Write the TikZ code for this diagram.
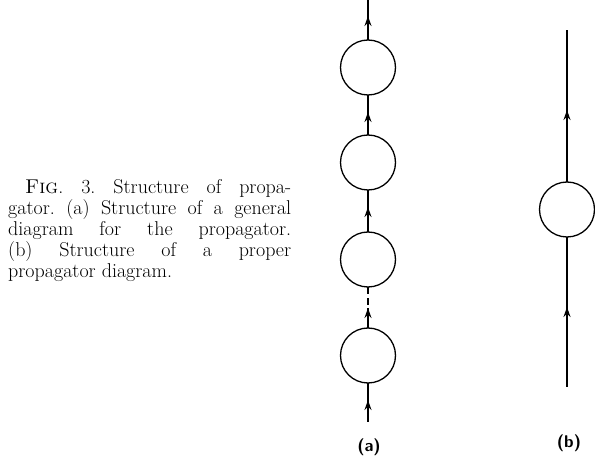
\documentclass[tikz,border=0pt]{standalone}
\usepackage{fontspec}
\usepackage{tikz}
\usetikzlibrary{arrows.meta,positioning,decorations.markings}

\begin{document}
\begin{tikzpicture}[
    x=1pt, y=-1pt,
    node distance=40pt,
    blob/.style={circle, draw, line width=1.3pt, minimum size=55pt, inner sep=0pt, outer sep=0pt},
    prop/.style={line width=1.3pt, postaction={decorate},
        decoration={markings, mark=at position #1 with {\arrow{Stealth[length=10pt, width=7pt, inset=3.5pt]}}}},
    lbl/.style={font=\sffamily\bfseries\fontsize{17}{17}\selectfont},
    caption/.style={text width=283pt, align=justify, inner sep=0pt, anchor=north west,
        font=\fontsize{20}{21}\selectfont\frenchspacing}
]
\useasboundingbox (0,0) rectangle (595,462);

% caption
\node[caption] (cap) at (8,179) {\hspace*{17pt}\textsc{Fig}. 3. Structure of propa-\linebreak
gator. (a)~Structure of a general\linebreak
diagram for the propagator.\linebreak
(b) Structure of a proper\linebreak
propagator diagram.};

% (a) general diagram
\node[blob] (a1) at (368,67.5) {};
\node[blob, below=of a1] (a2) {};
\node[blob, below=42pt of a2] (a3) {};
\node[blob, below=41pt of a3] (a4) {};
\coordinate (atop) at (368,0);
\coordinate (abot) at (368,422);
\node[lbl] (la) at (369,447) {(a)};

\draw[prop=24pt] (a1.north) -- (atop);
\draw[prop=23pt] (a2.north) -- (a1.south);
\draw[prop=25pt] (a3.north) -- (a2.south);
\draw[prop=20pt, dash pattern=on 20pt off 3pt on 7pt off 4pt on 20pt] (a4.north) -- (a3.south);
\draw[prop=22pt] (abot) -- (a4.south);

% (b) proper diagram
\node[blob] (b1) at (567,209.5) {};
\coordinate (btop) at (567,30);
\coordinate (bbot) at (567,387);
\node[lbl] (lb) at (569,443) {(b)};

\draw[prop=72pt] (b1.north) -- (btop);
\draw[prop=80pt] (bbot) -- (b1.south);
\end{tikzpicture}
\end{document}
